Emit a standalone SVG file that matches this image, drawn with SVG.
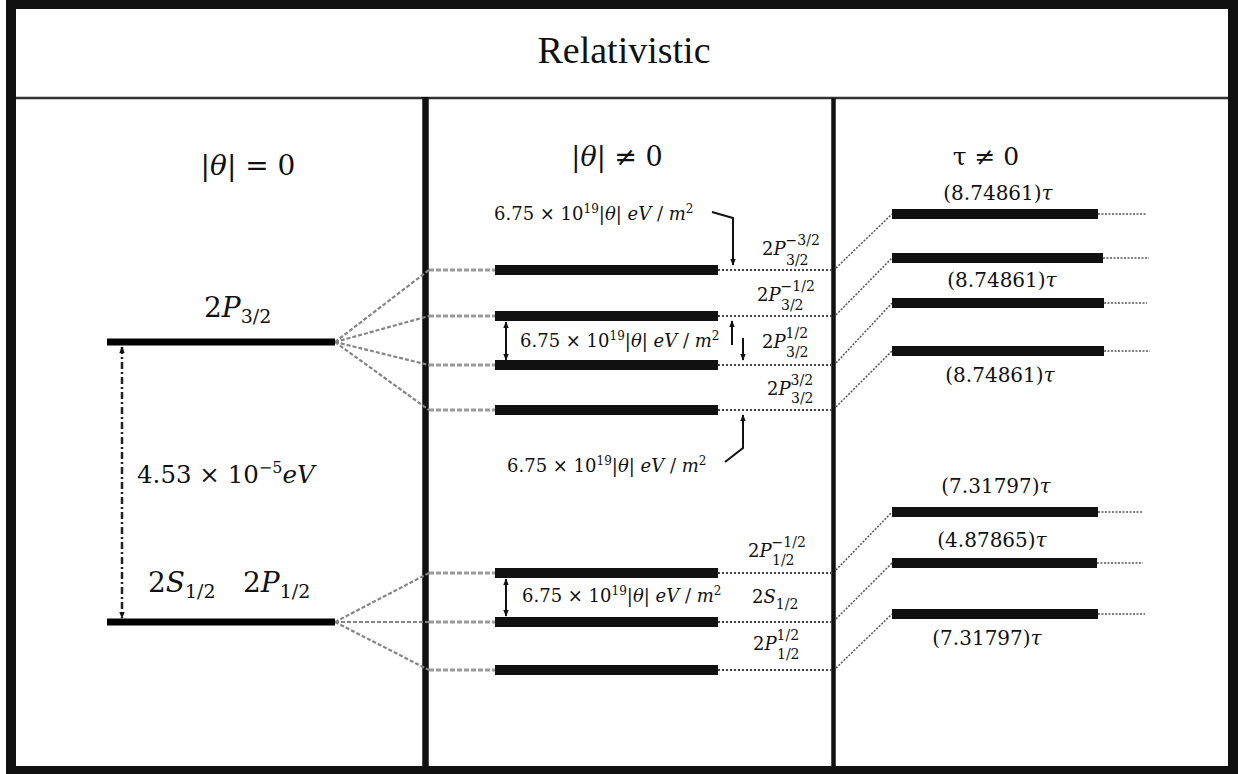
<svg xmlns="http://www.w3.org/2000/svg" width="1238" height="774" viewBox="0 0 1238 774">
<style>
.math{font-family:"DejaVu Serif","Liberation Serif",serif;fill:#111}
.it{font-style:italic}
.bar{stroke:#111;stroke-width:10}
.lvl0{stroke:#000;stroke-width:7}
.fan{stroke:#858585;stroke-width:2.2;stroke-dasharray:4 2;fill:none}
.stub{stroke:#9a9a9a;stroke-width:3;stroke-dasharray:5 2}
.dot{stroke:#444;stroke-width:2;stroke-dasharray:2 2}
.diag{stroke:#555;stroke-width:1.5;stroke-dasharray:2 1.5}
.tail{stroke:#555;stroke-width:1.5;stroke-dasharray:2 1.5}
.arr{stroke:#111;stroke-width:2;fill:none}
.frame{fill:#111}
</style>
<defs>
<marker id="ah" viewBox="0 0 10 10" refX="9" refY="5" markerWidth="7" markerHeight="7" markerUnits="userSpaceOnUse" orient="auto-start-reverse"><path d="M0,1 L10,5 L0,9 z" fill="#111"/></marker>
</defs>
<rect width="1238" height="774" fill="#fff"/>
<g id="frame">
<rect class="frame" x="6" y="0" width="10" height="774"/>
<rect class="frame" x="1228" y="0" width="10" height="774"/>
<rect class="frame" x="6" y="0" width="1232" height="9"/>
<rect class="frame" x="6" y="766" width="1232" height="8"/>
<line x1="16" y1="98" x2="1228" y2="98" stroke="#333" stroke-width="2.5"/>
<line x1="425.5" y1="97" x2="425.5" y2="766" stroke="#111" stroke-width="6.5"/>
<line x1="833.5" y1="98" x2="833.5" y2="766" stroke="#111" stroke-width="4.5"/>
</g>
<g id="headers">
<text x="624" y="63" text-anchor="middle" font-family="Liberation Serif, serif" font-size="38" fill="#111">Relativistic</text>
<text class="math" x="248" y="175" text-anchor="middle" font-size="28">|<tspan class="it">θ</tspan>| = 0</text>
<text class="math" x="617" y="166" text-anchor="middle" font-size="27">|<tspan class="it">θ</tspan>| ≠ 0</text>
<text class="math" x="986" y="165" text-anchor="middle" font-size="25">τ ≠ 0</text>
</g>
<g id="connectors">
<line class="fan" x1="335" y1="342" x2="429" y2="270"/>
<line class="fan" x1="335" y1="342" x2="429" y2="316"/>
<line class="fan" x1="335" y1="342" x2="429" y2="365"/>
<line class="fan" x1="335" y1="342" x2="429" y2="410"/>
<line class="fan" x1="335" y1="622" x2="429" y2="573"/>
<line class="fan" x1="335" y1="622" x2="429" y2="622"/>
<line class="fan" x1="335" y1="622" x2="429" y2="670"/>
<line class="stub" x1="429" y1="270" x2="495" y2="270"/>
<line class="stub" x1="429" y1="316" x2="495" y2="316"/>
<line class="stub" x1="429" y1="365" x2="495" y2="365"/>
<line class="stub" x1="429" y1="410" x2="495" y2="410"/>
<line class="stub" x1="429" y1="573" x2="495" y2="573"/>
<line class="stub" x1="429" y1="622" x2="495" y2="622"/>
<line class="stub" x1="429" y1="670" x2="495" y2="670"/>
<line class="dot" x1="718" y1="270" x2="831" y2="270"/>
<line class="dot" x1="718" y1="316" x2="831" y2="316"/>
<line class="dot" x1="718" y1="365" x2="831" y2="365"/>
<line class="dot" x1="718" y1="410" x2="831" y2="410"/>
<line class="dot" x1="718" y1="573" x2="831" y2="573"/>
<line class="dot" x1="718" y1="622" x2="831" y2="622"/>
<line class="dot" x1="718" y1="670" x2="831" y2="670"/>
<line class="diag" x1="836" y1="268" x2="892" y2="214"/>
<line class="diag" x1="836" y1="315" x2="892" y2="258"/>
<line class="diag" x1="836" y1="363" x2="892" y2="303"/>
<line class="diag" x1="836" y1="407" x2="892" y2="351"/>
<line class="diag" x1="836" y1="570" x2="892" y2="512"/>
<line class="diag" x1="836" y1="619" x2="892" y2="563"/>
<line class="diag" x1="836" y1="668" x2="892" y2="614"/>
<line class="tail" x1="1098" y1="214" x2="1147" y2="214"/>
<line class="tail" x1="1103" y1="258" x2="1149" y2="258"/>
<line class="tail" x1="1104" y1="303" x2="1147" y2="303"/>
<line class="tail" x1="1104" y1="351" x2="1150" y2="351"/>
<line class="tail" x1="1098" y1="512" x2="1143" y2="512"/>
<line class="tail" x1="1097" y1="563" x2="1143" y2="563"/>
<line class="tail" x1="1098" y1="614" x2="1145" y2="614"/>
<line x1="122" y1="347" x2="122" y2="618" stroke="#222" stroke-width="2.5" stroke-dasharray="7 3 2 3" marker-start="url(#ah)" marker-end="url(#ah)"/>
<line class="arr" x1="506" y1="322" x2="506" y2="360" marker-start="url(#ah)" marker-end="url(#ah)"/>
<line class="arr" x1="506" y1="579" x2="506" y2="616" marker-start="url(#ah)" marker-end="url(#ah)"/>
<polyline class="arr" points="712,212 733,218 733,265" marker-end="url(#ah)"/>
<line class="arr" x1="732" y1="345" x2="732" y2="321" marker-end="url(#ah)"/>
<line class="arr" x1="743" y1="338" x2="743" y2="360" marker-end="url(#ah)"/>
<polyline class="arr" points="725,462 743,448 743,415" marker-end="url(#ah)"/>
</g>
<g id="col0-levels">
<g id="L0-2P32"><line class="lvl0" x1="107" y1="342" x2="335" y2="342"/>
<text class="math" x="204" y="317" font-size="28">2<tspan class="it">P</tspan><tspan font-size="19" dy="6">3/2</tspan></text></g>
<g id="L0-2S12"><line class="lvl0" x1="107" y1="622" x2="335" y2="622"/>
<text class="math" x="148" y="592" font-size="28">2<tspan class="it">S</tspan><tspan font-size="19" dy="6">1/2</tspan></text>
<text class="math" x="243" y="592" font-size="28">2<tspan class="it">P</tspan><tspan font-size="19" dy="6">1/2</tspan></text></g>
<g id="L0-gap"><text class="math" x="137" y="483" font-size="24.5">4.53 × 10<tspan font-size="16" dy="-10">−5</tspan><tspan class="it" dy="10">eV</tspan></text></g>
</g>
<g id="col1-levels">
<g id="M1"><line class="bar" x1="495" y1="270" x2="718" y2="270"/>
<text class="math" x="762" y="255" font-size="18">2<tspan class="it">P</tspan><tspan font-size="14" dy="-10">−3/2</tspan><tspan font-size="14" x="786" dy="20">3/2</tspan></text></g>
<g id="M2"><line class="bar" x1="495" y1="316" x2="718" y2="316"/>
<text class="math" x="757" y="301" font-size="18">2<tspan class="it">P</tspan><tspan font-size="14" dy="-10">−1/2</tspan><tspan font-size="14" x="781" dy="19">3/2</tspan></text></g>
<g id="M3"><line class="bar" x1="495" y1="365" x2="718" y2="365"/>
<text class="math" x="762" y="348" font-size="18">2<tspan class="it">P</tspan><tspan font-size="14" dy="-10">1/2</tspan><tspan font-size="14" x="786" dy="19">3/2</tspan></text></g>
<g id="M4"><line class="bar" x1="495" y1="410" x2="718" y2="410"/>
<text class="math" x="767" y="395" font-size="18">2<tspan class="it">P</tspan><tspan font-size="14" dy="-10">3/2</tspan><tspan font-size="14" x="791" dy="18">3/2</tspan></text></g>
<g id="M5"><line class="bar" x1="495" y1="573" x2="718" y2="573"/>
<text class="math" x="748" y="557" font-size="18">2<tspan class="it">P</tspan><tspan font-size="14" dy="-10">−1/2</tspan><tspan font-size="14" x="772" dy="18">1/2</tspan></text></g>
<g id="M6"><line class="bar" x1="495" y1="622" x2="718" y2="622"/>
<text class="math" x="752" y="603" font-size="18">2<tspan class="it">S</tspan><tspan font-size="14" dy="6">1/2</tspan></text></g>
<g id="M7"><line class="bar" x1="495" y1="670" x2="718" y2="670"/>
<text class="math" x="753" y="650" font-size="18">2<tspan class="it">P</tspan><tspan font-size="14" dy="-10">1/2</tspan><tspan font-size="14" x="777" dy="19">1/2</tspan></text></g>
<g id="gap-top"><text class="math" x="494" y="220" font-size="18">6.75 × 10<tspan font-size="12" dy="-7">19</tspan><tspan dy="7">|</tspan><tspan class="it">θ</tspan>| <tspan class="it">eV</tspan> / <tspan class="it">m</tspan><tspan font-size="12" dy="-7">2</tspan></text></g>
<g id="gap-mid"><text class="math" x="520" y="347" font-size="18">6.75 × 10<tspan font-size="12" dy="-7">19</tspan><tspan dy="7">|</tspan><tspan class="it">θ</tspan>| <tspan class="it">eV</tspan> / <tspan class="it">m</tspan><tspan font-size="12" dy="-7">2</tspan></text></g>
<g id="gap-bot"><text class="math" x="507" y="472" font-size="18">6.75 × 10<tspan font-size="12" dy="-7">19</tspan><tspan dy="7">|</tspan><tspan class="it">θ</tspan>| <tspan class="it">eV</tspan> / <tspan class="it">m</tspan><tspan font-size="12" dy="-7">2</tspan></text></g>
<g id="gap-low"><text class="math" x="522" y="602" font-size="18">6.75 × 10<tspan font-size="12" dy="-7">19</tspan><tspan dy="7">|</tspan><tspan class="it">θ</tspan>| <tspan class="it">eV</tspan> / <tspan class="it">m</tspan><tspan font-size="12" dy="-7">2</tspan></text></g>
</g>
<g id="col2-levels">
<g id="R1"><line class="bar" x1="892" y1="214" x2="1098" y2="214"/>
<text class="math" x="998" y="200" text-anchor="middle" font-size="20">(8.74861)<tspan class="it">τ</tspan></text></g>
<g id="R2"><line class="bar" x1="892" y1="258" x2="1103" y2="258"/>
<text class="math" x="1002" y="287" text-anchor="middle" font-size="20">(8.74861)<tspan class="it">τ</tspan></text></g>
<g id="R3"><line class="bar" x1="892" y1="303" x2="1104" y2="303"/></g>
<g id="R4"><line class="bar" x1="892" y1="351" x2="1104" y2="351"/>
<text class="math" x="1000" y="382" text-anchor="middle" font-size="20">(8.74861)<tspan class="it">τ</tspan></text></g>
<g id="R5"><line class="bar" x1="892" y1="512" x2="1098" y2="512"/>
<text class="math" x="996" y="493" text-anchor="middle" font-size="20">(7.31797)<tspan class="it">τ</tspan></text></g>
<g id="R6"><line class="bar" x1="892" y1="563" x2="1097" y2="563"/>
<text class="math" x="992" y="547" text-anchor="middle" font-size="20">(4.87865)<tspan class="it">τ</tspan></text></g>
<g id="R7"><line class="bar" x1="892" y1="614" x2="1098" y2="614"/>
<text class="math" x="987" y="645" text-anchor="middle" font-size="20">(7.31797)<tspan class="it">τ</tspan></text></g>
</g>
</svg>
